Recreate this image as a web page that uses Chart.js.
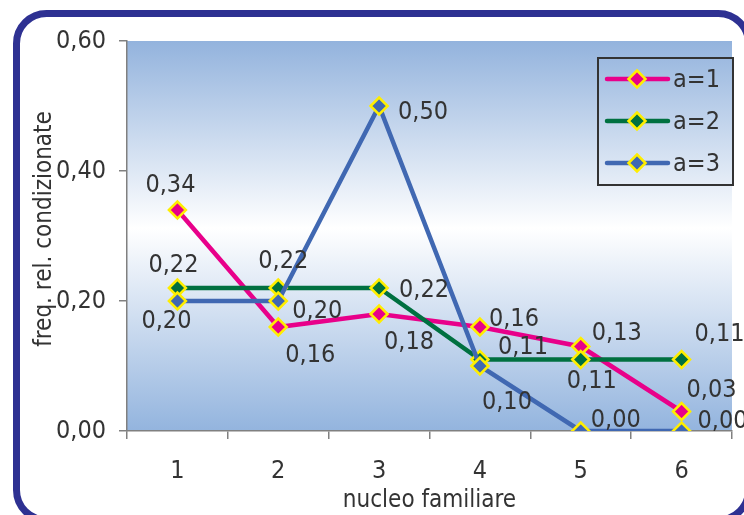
<!DOCTYPE html>
<html>
<head>
<meta charset="utf-8">
<script src="https://cdn.jsdelivr.net/npm/chart.js@4/dist/chart.umd.min.js"></script>
<style>
  html, body { margin: 0; padding: 0; background: #ffffff; overflow: hidden; }
  #wrap { width: 744px; height: 515px; position: relative; }
  canvas { display: block; }
</style>
</head>
<body>
<div id="wrap"><canvas id="c" width="744" height="515"></canvas></div>
<script>
// Conditional relative frequencies by household size ("nucleo familiare")
const categories = ['1', '2', '3', '4', '5', '6'];
const seriesNames = ['a=1', 'a=2', 'a=3'];
const valuesA1 = [0.34, 0.16, 0.18, 0.16, 0.13, 0.03];
const valuesA2 = [0.22, 0.22, 0.22, 0.11, 0.11, 0.11];
const valuesA3 = [0.20, 0.20, 0.50, 0.10, 0.00, 0.00];
const yTickValues = [0, 0.2, 0.4, 0.6];
const xTitle = 'nucleo familiare';
const yTitle = 'freq. rel. condizionate';

// Styling
const FONT = '"DejaVu Sans Condensed", "DejaVu Sans", Tahoma, sans-serif';
const TEXT = '#333333';
const AXIS = '#808080';
const seriesColors = ['#e8008a', '#007040', '#4068b2'];
const markerBorder = '#ffee00';

// Where each value label sits relative to its point (dx, dy)
const labelOffsets = [
  [[-7, -25], [32, 28], [30, 28], [34, -8], [36, -13], [30, -21]],
  [[-4, -23], [5, -27], [45, 2], [43, -12], [11, 22], [38, -25]],
  [[-11, 20], [39, 10], [44, 6], [27, 36], [35, -11], [41, -10]]
];

const fmt = v => v.toFixed(2).replace('.', ',');

function makeDataset(i, values) {
  return {
    label: seriesNames[i],
    data: values,
    borderColor: seriesColors[i],
    backgroundColor: seriesColors[i],
    borderWidth: 4.5,
    pointStyle: 'rectRot',
    pointRadius: 8.5,
    pointHoverRadius: 8.5,
    pointBackgroundColor: seriesColors[i],
    pointBorderColor: markerBorder,
    pointBorderWidth: 2.5,
    tension: 0,
    order: 3 - i
  };
}

// Rounded frame path around the whole chart
function framePath(ctx, x0, y0, x1, y1, r) {
  ctx.beginPath();
  ctx.moveTo(x0 + r, y0);
  ctx.lineTo(x1 - r, y0);
  ctx.arcTo(x1, y0, x1, y0 + r, r);
  ctx.lineTo(x1, y1 - r);
  ctx.arcTo(x1, y1, x1 - r, y1, r);
  ctx.lineTo(x0 + r, y1);
  ctx.arcTo(x0, y1, x0, y1 - r, r);
  ctx.lineTo(x0, y0 + r);
  ctx.arcTo(x0, y0, x0 + r, y0, r);
  ctx.closePath();
}

// Page backdrop, plot-area gradient and the rounded frame
const framePlugin = {
  id: 'frame',
  beforeDraw(chart) {
    const { ctx, chartArea: a } = chart;
    ctx.save();
    ctx.fillStyle = '#ffffff';
    ctx.fillRect(0, 0, chart.width, chart.height);
    const g = ctx.createLinearGradient(0, a.top, 0, a.bottom);
    g.addColorStop(0, '#93b3dd');
    g.addColorStop(0.48, '#ffffff');
    g.addColorStop(1, '#93b4de');
    ctx.fillStyle = g;
    ctx.fillRect(a.left, a.top, a.right - a.left, a.bottom - a.top);
    ctx.restore();
  },
  afterDraw(chart) {
    const ctx = chart.ctx;
    ctx.save();
    ctx.strokeStyle = '#2e3192';
    ctx.lineWidth = 7;
    framePath(ctx, 16.5, 13.5, 748.5, 520, 30);
    ctx.stroke();
    ctx.restore();
  }
};

// Value labels next to each marker
const valueLabelPlugin = {
  id: 'valueLabels',
  afterDatasetsDraw(chart) {
    const ctx = chart.ctx;
    ctx.save();
    ctx.font = '25px ' + FONT;
    ctx.fillStyle = TEXT;
    ctx.textAlign = 'center';
    ctx.textBaseline = 'middle';
    chart.data.datasets.forEach((ds, di) => {
      const meta = chart.getDatasetMeta(di);
      meta.data.forEach((pt, pi) => {
        const off = labelOffsets[di][pi];
        ctx.fillText(fmt(ds.data[pi]), pt.x + off[0], pt.y + off[1]);
      });
    });
    ctx.restore();
  }
};

// Boxed legend inside the plot, plus axis titles
const legendAndTitles = {
  id: 'legendAndTitles',
  afterDraw(chart) {
    const ctx = chart.ctx;
    const a = chart.chartArea;
    ctx.save();
    // legend box
    const bx = 598, by = 58, bw = 135, bh = 127;
    ctx.strokeStyle = '#333333';
    ctx.lineWidth = 2;
    ctx.strokeRect(bx, by, bw, bh);
    ctx.font = '25px ' + FONT;
    ctx.textAlign = 'left';
    ctx.textBaseline = 'middle';
    chart.data.datasets.forEach((ds, i) => {
      const y = by + 21 + i * 42;
      ctx.strokeStyle = ds.borderColor;
      ctx.lineWidth = 4.5;
      ctx.lineCap = 'round';
      ctx.beginPath();
      ctx.moveTo(bx + 9, y);
      ctx.lineTo(bx + 70, y);
      ctx.stroke();
      const cx = bx + 39, r = 8.5;
      ctx.beginPath();
      ctx.moveTo(cx, y - r);
      ctx.lineTo(cx + r, y);
      ctx.lineTo(cx, y + r);
      ctx.lineTo(cx - r, y);
      ctx.closePath();
      ctx.fillStyle = ds.pointBackgroundColor;
      ctx.fill();
      ctx.strokeStyle = markerBorder;
      ctx.lineWidth = 2.5;
      ctx.stroke();
      ctx.fillStyle = TEXT;
      ctx.fillText(ds.label, bx + 75, y + 1);
    });
    // axis titles
    ctx.fillStyle = TEXT;
    ctx.font = '24px ' + FONT;
    ctx.textAlign = 'center';
    ctx.textBaseline = 'middle';
    ctx.fillText(xTitle, (a.left + a.right) / 2, 501);
    ctx.translate(45, 229);
    ctx.rotate(-Math.PI / 2);
    ctx.fillText(yTitle, 0, 0);
    ctx.restore();
  }
};

new Chart(document.getElementById('c'), {
  type: 'line',
  data: {
    labels: categories,
    datasets: [
      makeDataset(0, valuesA1),
      makeDataset(1, valuesA2),
      makeDataset(2, valuesA3)
    ]
  },
  options: {
    responsive: false,
    animation: false,
    devicePixelRatio: 1,
    layout: { padding: { top: 41, right: 12, left: 0, bottom: 0 } },
    plugins: {
      legend: { display: false },
      tooltip: { enabled: false }
    },
    scales: {
      x: {
        type: 'category',
        offset: true,
        grid: {
          offset: true,
          drawOnChartArea: false,
          drawTicks: true,
          tickLength: 8,
          color: AXIS,
          lineWidth: 1.5
        },
        border: { color: AXIS, width: 1.5 },
        ticks: { color: TEXT, font: { family: FONT, size: 25 }, padding: 17, maxRotation: 0 },
        afterFit(s) { s.height = 84; }
      },
      y: {
        min: 0,
        max: 0.6,
        grid: {
          drawOnChartArea: false,
          drawTicks: true,
          tickLength: 8,
          color: AXIS,
          lineWidth: 1.5
        },
        border: { color: AXIS, width: 1.5 },
        afterBuildTicks(s) { s.ticks = yTickValues.map(v => ({ value: v })); },
        ticks: {
          color: TEXT,
          font: { family: FONT, size: 25 },
          padding: 13,
          callback: v => fmt(v)
        },
        afterFit(s) { s.width = 127; }
      }
    }
  },
  plugins: [framePlugin, valueLabelPlugin, legendAndTitles]
});
</script>
</body>
</html>
